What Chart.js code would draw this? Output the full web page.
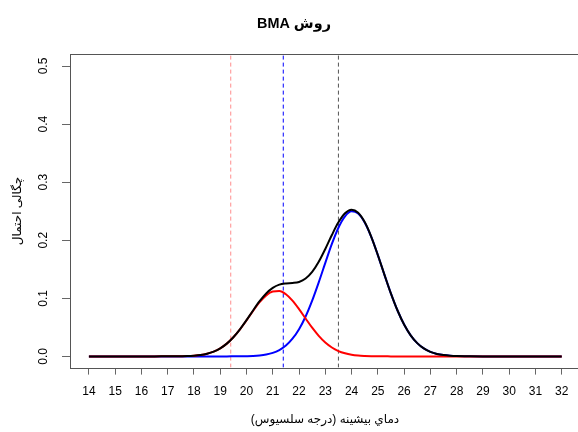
<!DOCTYPE html>
<html>
<head>
<meta charset="utf-8">
<script src="https://cdn.jsdelivr.net/npm/chart.js@4"></script>
<style>
  html, body { margin: 0; padding: 0; background: #fff; overflow: hidden; width: 578px; height: 432px; }
  canvas { display: block; }
</style>
</head>
<body>
<canvas id="c" width="590" height="432"></canvas>
<script>
// Maximum temperature grid (°C)
const temps = [14,15,16,16.5,17,17.25,17.5,17.75,18,18.25,18.5,18.75,19,19.25,19.5,19.75,20,20.25,20.5,20.75,21,21.25,21.5,21.75,22,22.25,22.5,22.75,23,23.25,23.5,23.75,24,24.25,24.5,24.75,25,25.25,25.5,25.75,26,26.25,26.5,26.75,27,27.25,27.5,27.75,28,28.5,29,30,31,32];

// Weighted member densities and the combined BMA density
const memberRed = [0,0,0,0,0.0001,0.0001,0.0003,0.0006,0.0013,0.0025,0.0047,0.0083,0.0139,0.0220,0.0329,0.0465,0.0620,0.0783,0.0933,0.1051,0.1118,0.1125,0.1069,0.0960,0.0814,0.0653,0.0494,0.0354,0.0239,0.0153,0.0092,0.0053,0.0028,0.0014,0.0007,0.0003,0.0001,0.0001,0,0,0,0,0,0,0,0,0,0,0,0,0,0,0,0];
const memberBlue = [0,0,0,0,0,0,0,0,0,0,0,0,0,0,0.0001,0.0002,0.0004,0.0008,0.0017,0.0033,0.0061,0.0110,0.0187,0.0304,0.0468,0.0687,0.0960,0.1275,0.1611,0.1937,0.2216,0.2412,0.2498,0.2460,0.2306,0.2057,0.1745,0.1408,0.1081,0.0790,0.0549,0.0363,0.0229,0.0137,0.0078,0.0042,0.0022,0.0011,0.0005,0.0001,0,0,0,0];
const bmaPdf = [0,0,0,0,0.0001,0.0001,0.0003,0.0006,0.0013,0.0025,0.0047,0.0083,0.0139,0.0220,0.0330,0.0467,0.0624,0.0791,0.0950,0.1084,0.1179,0.1235,0.1256,0.1264,0.1282,0.1340,0.1454,0.1629,0.1850,0.2090,0.2308,0.2465,0.2526,0.2474,0.2313,0.2060,0.1746,0.1409,0.1081,0.0790,0.0549,0.0363,0.0229,0.0137,0.0078,0.0042,0.0022,0.0011,0.0005,0.0001,0,0,0,0];

// Vertical reference lines
const refX = [19.4, 21.4, 23.5];
const refColors = ['rgba(255,0,0,0.45)', '#0000ff', '#555555'];

// Axis ticks
const xTicks = [14,15,16,17,18,19,20,21,22,23,24,25,26,27,28,29,30,31,32];
const yTicks = [0, 0.1, 0.2, 0.3, 0.4, 0.5];
const yTickLabels = ['0.0','0.1','0.2','0.3','0.4','0.5'];

const titleText = 'روش BMA';
const xTitle = 'دماي بيشينه (درجه سلسيوس)';
const yTitle = 'چگالی احتمال';

const yMin = -0.0193, yMax = 0.5207;
const xMin = 13.28, xMax = 32.72;

const series = (ys) => temps.map((t, i) => ({ x: t, y: ys[i] }));

const refSets = refX.map((v, i) => ({
  data: [{ x: v, y: yMin }, { x: v, y: yMax }],
  borderColor: refColors[i],
  borderWidth: 1,
  borderDash: [4, 3],
  pointRadius: 0,
  tension: 0
}));

const FONT = '"Liberation Sans", Arial, "DejaVu Sans", sans-serif';

const frame = {
  id: 'frame',
  afterDraw(chart) {
    const ctx = chart.ctx;
    const a = chart.chartArea;
    const xs = chart.scales.x, ys = chart.scales.y;
    ctx.save();
    ctx.strokeStyle = '#555';
    ctx.lineWidth = 1;
    ctx.strokeRect(Math.round(a.left) + 0.5, Math.round(a.top) + 0.5,
                   Math.round(a.right - a.left), Math.round(a.bottom - a.top));

    ctx.fillStyle = '#000';
    ctx.font = '12px ' + FONT;
    ctx.textAlign = 'center';
    ctx.textBaseline = 'middle';
    xTicks.forEach(v => ctx.fillText(String(v), xs.getPixelForValue(v), 392));

    yTicks.forEach((v, i) => {
      ctx.save();
      ctx.translate(44, ys.getPixelForValue(v));
      ctx.rotate(-Math.PI / 2);
      ctx.fillText(yTickLabels[i], 0, 0);
      ctx.restore();
    });

    ctx.direction = 'rtl';
    ctx.fillText(xTitle, 325, 420);
    ctx.save();
    ctx.translate(18, 211);
    ctx.rotate(-Math.PI / 2);
    ctx.fillText(yTitle, 0, 0);
    ctx.restore();

    ctx.font = 'bold 14.4px ' + FONT;
    ctx.fillText(titleText, 294, 24);
    ctx.restore();
  }
};

// Datasets listed first are painted on top
new Chart(document.getElementById('c'), {
  type: 'line',
  data: {
    datasets: [
      { data: series(bmaPdf), borderColor: '#000000', borderWidth: 2, pointRadius: 0, cubicInterpolationMode: 'monotone' },
      { data: series(memberRed), borderColor: '#ff0000', borderWidth: 2, pointRadius: 0, cubicInterpolationMode: 'monotone' },
      { data: series(memberBlue), borderColor: '#0000ff', borderWidth: 2, pointRadius: 0, cubicInterpolationMode: 'monotone' },
      ...refSets
    ]
  },
  options: {
    responsive: false,
    animation: false,
    devicePixelRatio: 1,
    layout: { padding: { left: 62, top: 54, right: 9.4, bottom: 57.4 } },
    plugins: { legend: { display: false }, tooltip: { enabled: false }, title: { display: false } },
    scales: {
      x: {
        type: 'linear', min: xMin, max: xMax,
        afterBuildTicks: s => { s.ticks = xTicks.map(v => ({ value: v })); },
        ticks: { display: false },
        grid: { drawOnChartArea: false, drawTicks: true, tickLength: 7, color: '#666' },
        border: { display: false }
      },
      y: {
        type: 'linear', min: yMin, max: yMax,
        afterBuildTicks: s => { s.ticks = yTicks.map(v => ({ value: v })); },
        ticks: { display: false },
        grid: { drawOnChartArea: false, drawTicks: true, tickLength: 8, color: '#666' },
        border: { display: false }
      }
    }
  },
  plugins: [frame]
});
</script>
</body>
</html>
